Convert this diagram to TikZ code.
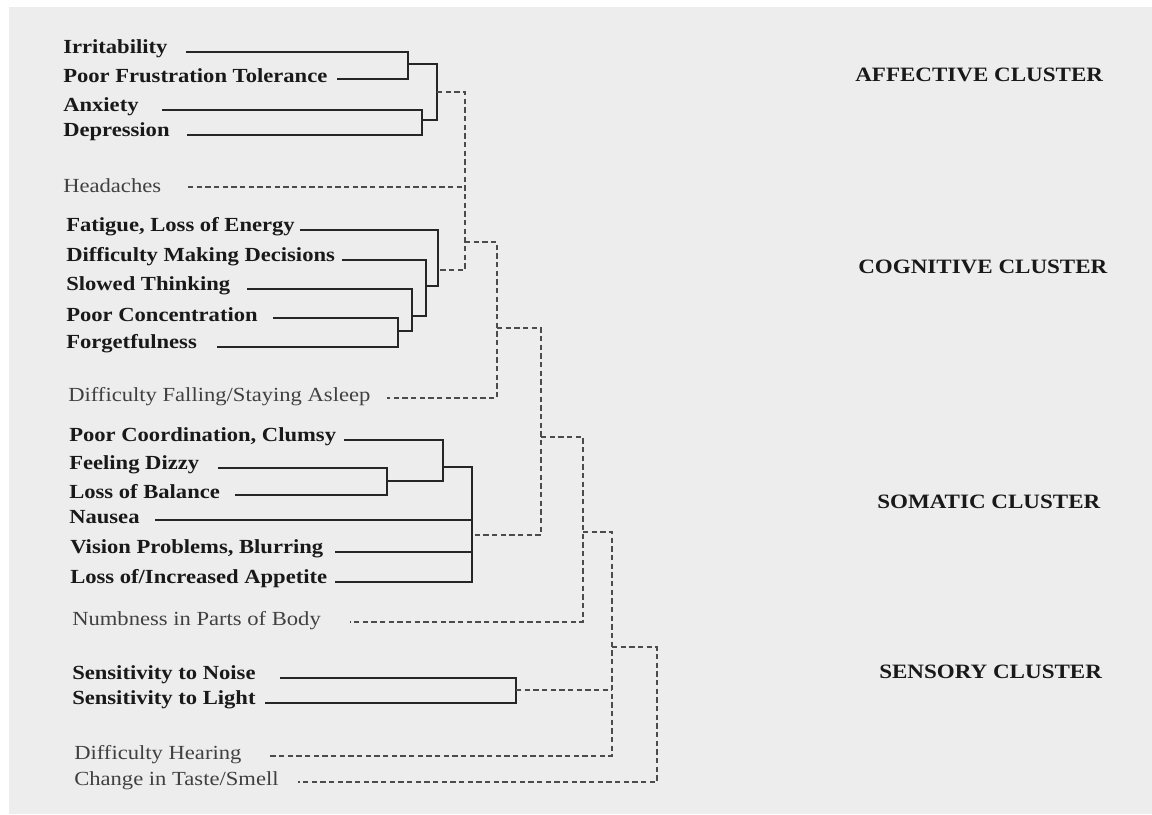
\documentclass[tikz,border=0pt]{standalone}
\usepackage{fontspec}
\setmainfont{Liberation Serif}[FakeStretch=1.13]
\begin{document}
\begin{tikzpicture}[x=0.75pt,y=-0.75pt,
    item/.style={anchor=west,inner sep=0pt,font=\fontsize{15}{18}\selectfont\bfseries,text=black!90},
    weak/.style={anchor=west,inner sep=0pt,font=\fontsize{15}{18}\selectfont,text=black!75},
    cluster/.style={anchor=west,inner sep=0pt,font=\fontsize{15.3}{18}\selectfont\bfseries,text=black!90},
    tree/.style={line width=1.6pt,black!85},
    link/.style={line width=0.9pt,black!70,dash pattern=on 4pt off 2.5pt}]
        \useasboundingbox (0,0) rectangle (1152,814);
        \fill[white] (0,0) rectangle (1152,814);
        \fill[black!7] (9,7) rectangle (1152,814);
        \foreach \n/\x/\y/\s/\t in {irr/63/52/186/{Irritability},
            pft/63/79/337/{Poor Frustration Tolerance},
            anx/63/110/162/{Anxiety},
            dep/63/135/187/{Depression},
            fat/66/230/300/{Fatigue, Loss of Energy},
            dmd/66/260/342/{Difficulty Making Decisions},
            slo/66/289/247/{Slowed Thinking},
            con/66/318/273/{Poor Concentration},
            fgt/66/347/217/{Forgetfulness},
            pcc/69/440/344/{Poor Coordination, Clumsy},
            diz/69/468/218/{Feeling Dizzy},
            bal/69/495/235/{Loss of Balance},
            nau/69/520/155/{Nausea},
            vis/70/552/335/{Vision Problems, Blurring},
            app/70/582/335/{Loss of/Increased Appetite},
            noi/72/678/280/{Sensitivity to Noise},
            lig/72/703/265/{Sensitivity to Light}}{
          \node[item] (\n) at (\x,\y-3) {\t};
          \coordinate (\n-s) at (\s,\y);}
        \foreach \n/\x/\y/\s/\t in {hea/63/187/188/{Headaches},
            slp/68/398/387/{Difficulty Falling/Staying Asleep},
            num/72/622/350/{Numbness in Parts of Body},
            hear/74/756/270/{Difficulty Hearing},
            tas/74/782/298/{Change in Taste/Smell}}{
          \node[weak] (\n) at (\x,\y-1) {\t};
          \coordinate (\n-s) at (\s,\y);}
        % joints
        \coordinate (a1) at (408,64);
        \coordinate (a2) at (422,120);
        \coordinate (aff) at (437,92);
        \coordinate (c1) at (398,331);
        \coordinate (c2) at (412,316);
        \coordinate (c3) at (426,286);
        \coordinate (cog) at (438,270);
        \coordinate (s1) at (387,481);
        \coordinate (s2) at (443,467);
        \coordinate (som) at (472,535);
        \coordinate (sen) at (516,690);
        \coordinate (d1) at (465,242);
        \coordinate (d2) at (497,328);
        \coordinate (d3) at (541,437);
        \coordinate (d4) at (583,532);
        \coordinate (d5) at (612,647);
        \coordinate (d6) at (657,647);
        \draw[tree] (irr-s) -| (a1) |- (pft-s);
        \draw[tree] (anx-s) -| (a2) |- (dep-s);
        \draw[tree] (a1) -| (aff) |- (a2);
        \draw[tree] (con-s) -| (c1) |- (fgt-s);
        \draw[tree] (slo-s) -| (c2) |- (c1);
        \draw[tree] (dmd-s) -| (c3) |- (c2);
        \draw[tree] (fat-s) -| (cog) |- (c3);
        \draw[tree] (diz-s) -| (s1) |- (bal-s);
        \draw[tree] (pcc-s) -| (s2) |- (s1);
        \draw[tree] (s2) -| (som) |- (app-s);
        \draw[tree] (nau-s) -- (nau-s -| som);
        \draw[tree] (vis-s) -- (vis-s -| som);
        \draw[tree] (noi-s) -| (sen) |- (lig-s);
        \draw[link] (aff) -| (d1) |- (cog);
        \draw[link] (hea-s) -- (hea-s -| d1);
        \draw[link] (d1) -| (d2) |- (slp-s);
        \draw[link] (d2) -| (d3) |- (som);
        \draw[link] (d3) -| (d4) |- (num-s);
        \draw[link] (d4) -| (d5) |- (hear-s);
        \draw[link] (sen) -- (sen -| d5);
        \draw[link] (d5) -- (d6) |- (tas-s);
        \node[cluster] (affc) at (855,75) {AFFECTIVE CLUSTER};
        \node[cluster] (cogc) at (858,267) {COGNITIVE CLUSTER};
        \node[cluster] (somc) at (877,502) {SOMATIC CLUSTER};
        \node[cluster] (senc) at (879,672) {SENSORY CLUSTER};
      \end{tikzpicture}
\end{document}
